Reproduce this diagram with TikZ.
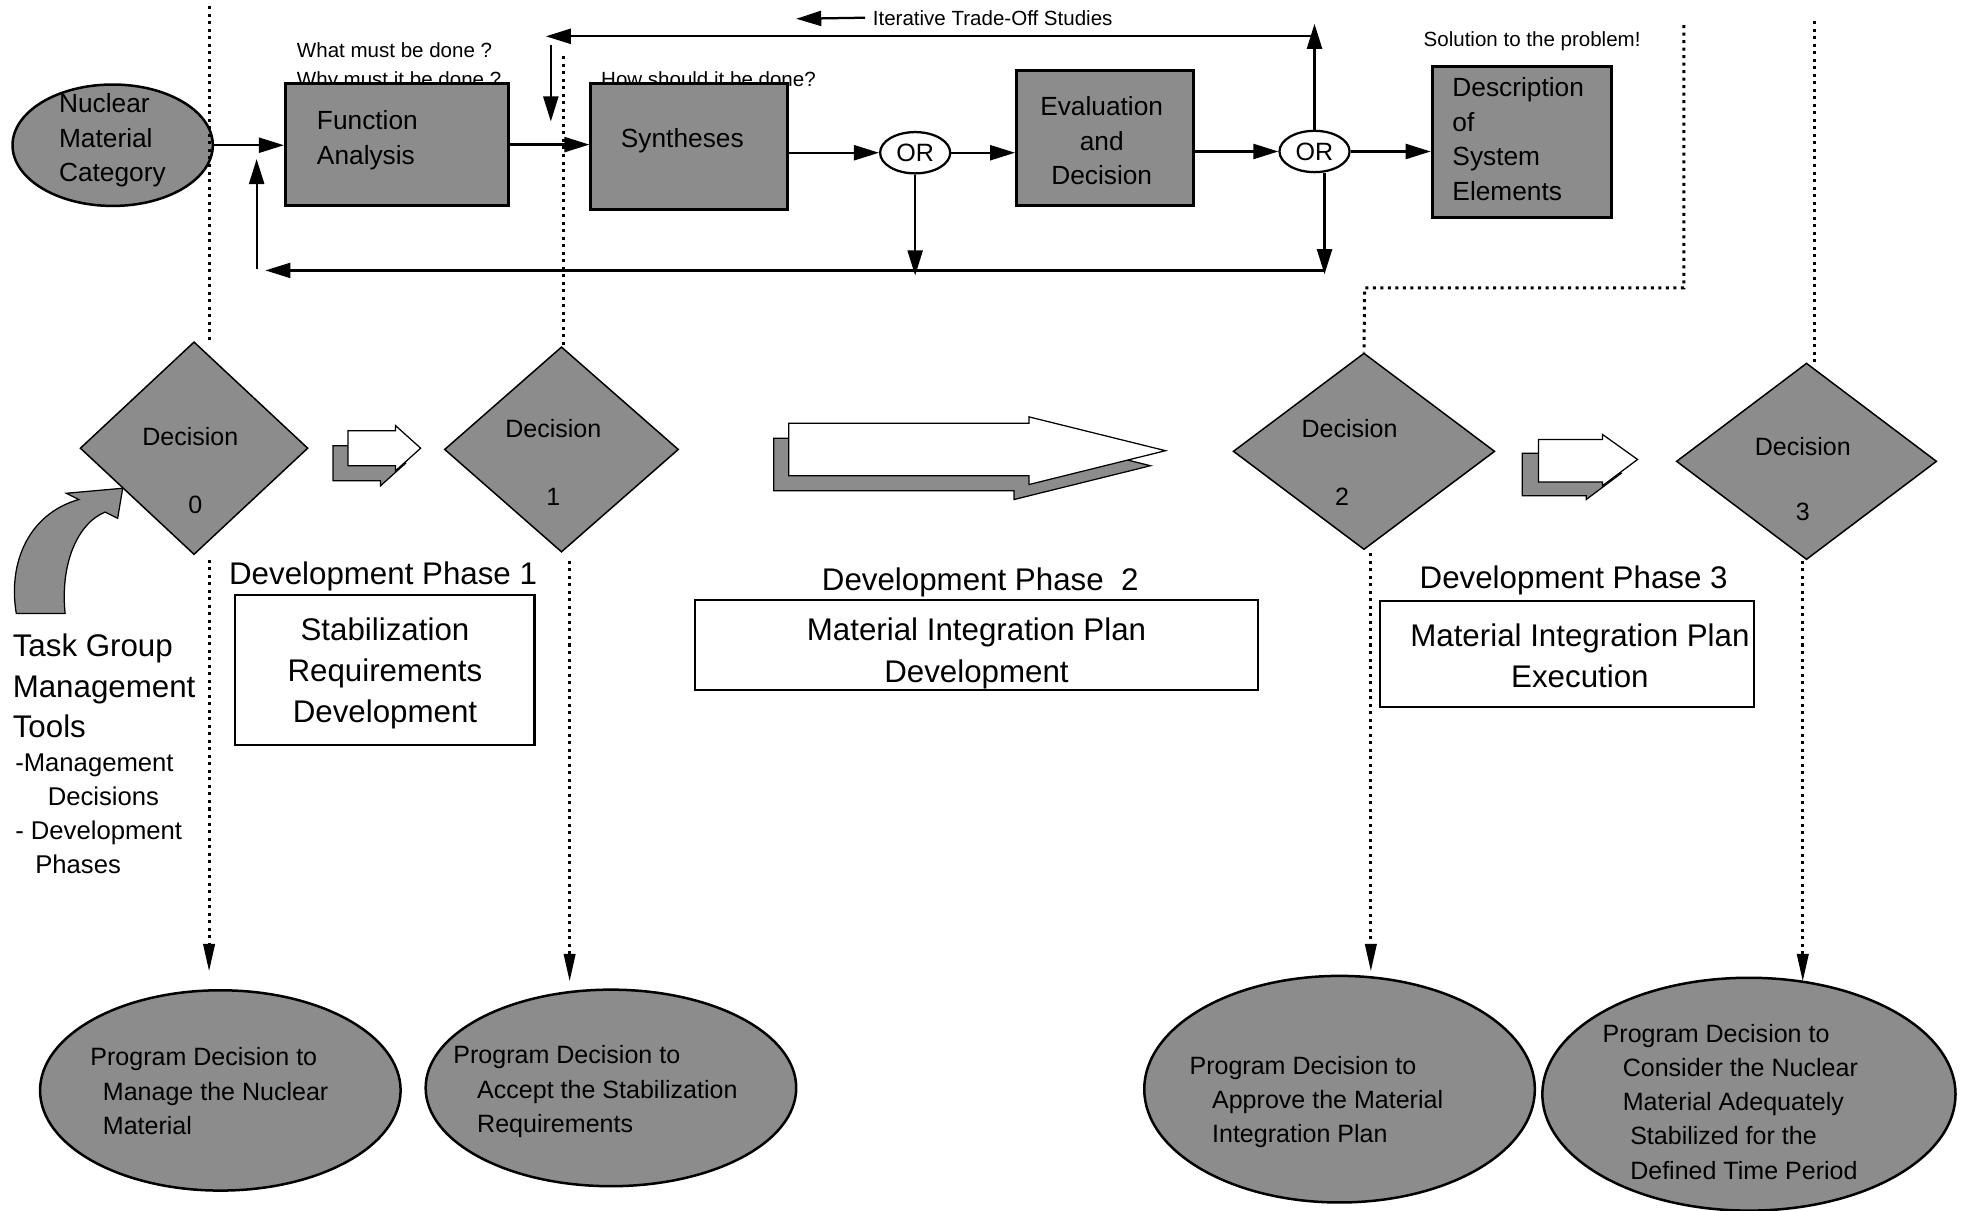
\documentclass[tikz,border=0pt]{standalone}
\usepackage{fontspec}
\setmainfont{Liberation Sans}
\usetikzlibrary{shapes.geometric,arrows.meta}
\tikzset{
  gfill/.style={fill=black!45},
  gbox/.style={draw, line width=2.4pt, gfill, inner sep=0pt, rectangle},
  wbox/.style={draw, line width=1.8pt, fill=white, inner sep=0pt, rectangle},
  btx/.style={inner sep=0pt, align=center, font=\fontsize{25}{33}\selectfont},
  gell/.style={draw, line width=2pt, gfill, ellipse, inner sep=0pt},
  gdia/.style={draw, line width=1.2pt, gfill, diamond, inner sep=0pt},
  orn/.style={draw, line width=1.8pt, fill=white, ellipse, inner sep=0pt, minimum width=56, minimum height=33, font=\fontsize{20}{24}\selectfont},
  txt/.style={inner sep=0pt, align=left, font=\fontsize{21}{27.5}\selectfont},
  ctx/.style={inner sep=0pt, align=center, font=\fontsize{21}{27.5}\selectfont},
  etx/.style={inner sep=0pt, align=left, font=\fontsize{20}{27.3}\selectfont},
  dtx/.style={inner sep=0pt, font=\fontsize{20}{24}\selectfont},
  lab/.style={inner sep=0pt, font=\fontsize{16.4}{20}\selectfont},
  ph/.style={inner sep=0pt, font=\fontsize{25}{30}\selectfont},
  arr/.style={line width=1.8pt, -{Triangle[length=20pt,width=12pt]}},
  dotl/.style={line width=2.4pt, dash pattern=on 2.4pt off 3.6pt},
  dotarr/.style={dotl, -{Triangle[length=22pt,width=9pt]}},
  blk/.style={draw, line width=1pt, fill=white},
  shd/.style={draw, line width=1pt, gfill},
}
\begin{document}
\begin{tikzpicture}[x=1pt,y=-1pt]
\useasboundingbox[fill=white] (0,0) rectangle (1568,967);

% --- top labels (drawn first, boxes overlap them) ---
\node[lab, anchor=base west] (q1) at (237,46) {What must be done ?};
\node[lab, anchor=base west] (q2) at (237,69) {Why must it be done ?};
\node[lab, anchor=base west] (q3) at (480,69) {How should it be done?};
\node[lab, anchor=base west] (q4) at (1137,37) {Solution to the problem!};
\node[lab, anchor=base west] (its) at (697,20) {Iterative Trade-Off Studies};
\coordinate (ita) at (636,15);
\draw[arr] ([xshift=-6pt]its.west) -- (ita);

% --- top flow ---
\node[gell, minimum width=160, minimum height=97] (nuc) at (90,116) {};
\node[txt, anchor=west] (nuct) at (47,112) {Nuclear\\Material\\Category};
\node[gbox, minimum width=178, minimum height=97] (fa) at (317,115.5) {};
\node[txt, anchor=west] (fat) at (253,112) {Function\\Analysis};
\node[gbox, minimum width=157, minimum height=100] (syn) at (550.5,117) {};
\node[ctx] (synt) at (545,112) {Syntheses};
\node[gbox, minimum width=141, minimum height=108] (ev) at (882.5,110) {};
\node[ctx] (evt) at (880,112.5) {Evaluation\\and\\Decision};
\node[gbox, minimum width=143, minimum height=121] (desc) at (1215.5,113.5) {};
\node[txt, anchor=west] (desct) at (1160,111) {Description\\of\\System\\Elements};
\node[orn] (or1) at (731,122) {OR};
\node[orn] (or2) at (1050,121) {OR};

\draw[arr] (nuc.east) -- (fa.west |- nuc.east);
\draw[arr] (fa.east) -- (fa.east -| syn.west);
\draw[arr] (syn.east |- or1.west) -- (or1.west);
\draw[arr] (or1.east) -- (or1.east -| ev.west);
\draw[arr] (ev.east |- or2.west) -- (or2.west);
\draw[arr] (or2.east) -- (or2.east -| desc.west);

\coordinate (o1d) at (731,220);
\draw[arr] (or1.south) -- (o1d);
\coordinate (u2) at (1050,19);
\draw[arr] (or2.north) -- (u2);
\coordinate (tr) at (1050,29);
\coordinate (tl) at (436,29);
\draw[arr] (tr) -- (tl);
\coordinate (ds) at (440,36);
\coordinate (de) at (440,97);
\draw[arr] (ds) -- (de);
\coordinate (o2d) at (1058,219);
\draw[arr] (or2.south -| o2d) -- (o2d);
\coordinate (br) at (1058,216);
\coordinate (bl) at (212,216);
\draw[arr] (br) -- (bl);
\coordinate (us) at (205,215);
\coordinate (ue) at (205,127);
\draw[arr] (us) -- (ue);

% --- diamonds ---
\node[gdia, minimum width=182, minimum height=170] (d0) at (155,358) {};
\node[gdia, minimum width=187, minimum height=164] (d1) at (448.5,359) {};
\node[gdia, minimum width=209, minimum height=157] (d2) at (1089.5,360.5) {};
\node[gdia, minimum width=208, minimum height=157] (d3) at (1443,368.5) {};
\node[dtx] (d0a) at (152,349) {Decision};
\node[dtx] (d0b) at (156,403) {0};
\node[dtx] (d1a) at (442,342) {Decision};
\node[dtx] (d1b) at (442,397) {1};
\node[dtx] (d2a) at (1078,342) {Decision};
\node[dtx] (d2b) at (1072,397) {2};
\node[dtx] (d3a) at (1440,357) {Decision};
\node[dtx] (d3b) at (1440,409) {3};

% --- block arrows ---
\draw[shd, shift={(-12,12)}] (278,344) -- (316,344) -- (316,340) -- (336,358) -- (316,376) -- (316,372) -- (278,372) -- cycle;
\draw[blk] (278,344) -- (316,344) -- (316,340) -- (336,358) -- (316,376) -- (316,372) -- (278,372) -- cycle;
\draw[shd, shift={(-12,12)}] (630,338) -- (822,338) -- (822,333) -- (931,360) -- (822,387) -- (822,380) -- (630,380) -- cycle;
\draw[blk] (630,338) -- (822,338) -- (822,333) -- (931,360) -- (822,387) -- (822,380) -- (630,380) -- cycle;
\draw[shd, shift={(-13,11)}] (1229,351) -- (1280,351) -- (1280,347) -- (1308,367) -- (1280,388) -- (1280,385) -- (1229,385) -- cycle;
\draw[blk] (1229,351) -- (1280,351) -- (1280,347) -- (1308,367) -- (1280,388) -- (1280,385) -- (1229,385) -- cycle;

% --- curved arrow ---
\draw[shd] (13,490) .. controls (6,448) and (24,410) .. (63,399) -- (53,394) -- (98,390) -- (94,414) -- (84,409) .. controls (62,418) and (48,450) .. (52,490) -- cycle;

% --- task group text ---
\node[inner sep=0pt, align=left, anchor=west, font=\fontsize{25}{32.5}\selectfont] (tg) at (10,548) {Task Group\\Management\\Tools};
\node[inner sep=0pt, align=left, anchor=west, font=\fontsize{20.5}{27.3}\selectfont] (tg2) at (12,650) {-Management\\\hspace*{26pt}Decisions\\- Development\\\hspace*{16pt}Phases};

% --- development phases ---
\node[ph, anchor=base] (p1) at (306,467) {Development Phase 1};
\node[ph, anchor=base] (p2) at (783,472) {Development Phase\ \ 2};
\node[ph, anchor=base] (p3) at (1257,470) {Development Phase 3};
\node[wbox, minimum width=239, minimum height=120] (b1) at (307.5,535) {};
\node[btx] (b1t) at (307.5,538) {Stabilization\\Requirements\\Development};
\node[wbox, minimum width=450, minimum height=72] (b2) at (780,515) {};
\node[btx] (b2t) at (780,522) {Material Integration Plan\\Development};
\node[wbox, minimum width=299, minimum height=85] (b3) at (1251.5,522.5) {};
\node[btx] (b3t) at (1262,524) {Material Integration Plan\\Execution};

% --- bottom ellipses ---
\node[gell, minimum width=288, minimum height=160] (e0) at (176,871) {};
\node[etx, anchor=west] (e0t) at (72,871.5) {Program Decision to\\\hspace*{10pt}Manage the Nuclear\\\hspace*{10pt}Material};
\node[gell, minimum width=296, minimum height=157] (e1) at (488,869) {};
\node[etx, anchor=west] (e1t) at (362,872) {Program Decision to\\\hspace*{19pt}Accept the Stabilization\\\hspace*{19pt}Requirements};
\node[gell, minimum width=312, minimum height=181] (e2) at (1070,870) {};
\node[etx, anchor=west] (e2t) at (950,880) {Program Decision to\\\hspace*{18pt}Approve the Material\\\hspace*{18pt}Integration Plan};
\node[gell, minimum width=330, minimum height=186] (e3) at (1397,874) {};
\node[etx, anchor=west] (e3t) at (1280,880) {Program Decision to\\\hspace*{16pt}Consider the Nuclear\\\hspace*{16pt}Material Adequately\\\hspace*{22pt}Stabilized for the\\\hspace*{22pt}Defined Time Period};

% --- dotted lines ---
\coordinate (a0) at (167,5);
\coordinate (a0e) at (167,776);
\draw[dotl] (a0) -- (a0 |- d0.north);
\draw[dotarr] (167,447) -- (a0e);
\coordinate (a1) at (450,45);
\coordinate (a1s) at (455,448);
\coordinate (a1e) at (455,784);
\draw[dotl] (a1) -- (a1 |- d1.north);
\draw[dotarr] (a1s) -- (a1e);
\coordinate (a2) at (1345,20);
\coordinate (a2m) at (1345,230);
\coordinate (a2n) at (1090,230);
\coordinate (a2s) at (1095,442);
\coordinate (a2e) at (1095,776);
\draw[dotl] (a2) -- (a2m) -- (a2n) -- (d2.north);
\draw[dotarr] (a2s) -- (a2e);
\coordinate (a3) at (1449,17);
\coordinate (a3s) at (1440,448);
\coordinate (a3e) at (1440,784);
\draw[dotl] (a3) -- (a3 |- d3.north);
\draw[dotarr] (a3s) -- (a3e);
\end{tikzpicture}
\end{document}
